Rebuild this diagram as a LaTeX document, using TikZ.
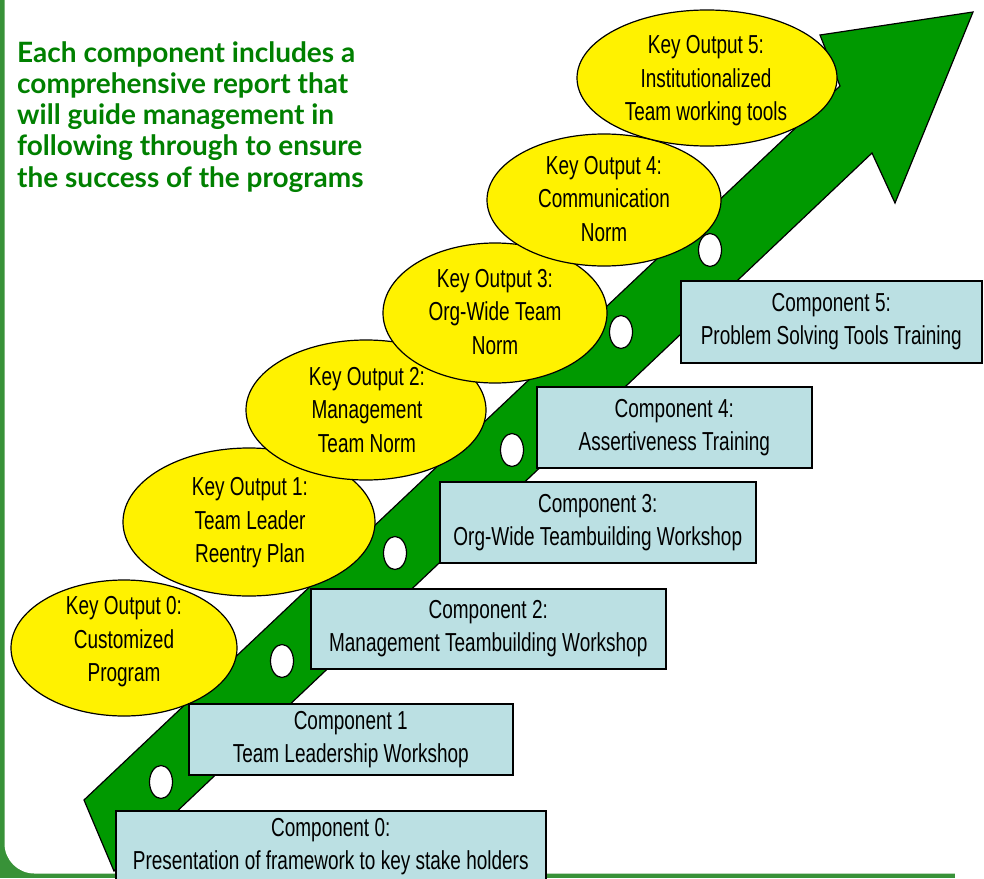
\documentclass[tikz,border=0pt]{standalone}
\usepackage{fontspec}
\setmainfont{Liberation Sans}
\newfontfamily\narrowfont[FakeStretch=0.73]{Liberation Sans}
\newfontfamily\headfont{Lato}
\definecolor{arrowgreen}{RGB}{0,153,0}
\definecolor{framegreen}{RGB}{56,146,56}
\definecolor{headgreen}{RGB}{0,128,0}
\definecolor{boxblue}{RGB}{187,224,227}
\begin{document}
\begin{tikzpicture}[x=1pt, y=-1pt,
    outline/.style={draw=black, line width=1.2pt},
    bubble/.style={outline, fill=yellow},
    hole/.style={outline, fill=white},
    bubbletext/.style={align=center, inner sep=0, font=\narrowfont\fontsize{26}{33.5}\selectfont},
    compbox/.style={outline, line width=1.5pt, fill=boxblue, anchor=north west, align=center, inner sep=0,
        font=\narrowfont\fontsize{26}{33}\selectfont}]
    \useasboundingbox (0,0) rectangle (984,878);
    % slide frame, only left and bottom edges show
    \fill[framegreen] (0,0) rectangle (955,878);
    \fill[white, rounded corners=30] (4.5,-60) rectangle (1100,873.5);
    \node[anchor=north west, align=left, inner sep=0, text=headgreen,
        font=\headfont\bfseries\fontsize{28}{31.3}\selectfont] (note) at (17,41)
        {Each component includes a\\comprehensive report that\\will guide management in\\following through to ensure\\the success of the programs};
    % the big arrow
    \draw[outline, fill=arrowgreen] (84,800) -- (114,871) -- (872,153) -- (895,203)
        -- (973,12) -- (820,35) -- (840,86) -- cycle;
    \foreach \x/\y in {161/782, 282/661, 395/553, 512/450, 621/332, 710/250}
        \draw[hole] (\x,\y) ellipse (11.5 and 16.5);
    % key outputs
    \draw[bubble] (124,648) ellipse (113 and 68);
    \node[bubbletext] (k0) at (124,642) {Key Output 0:\\Customized\\Program};
    \draw[bubble] (249,522) ellipse (126 and 74);
    \node[bubbletext] (k1) at (250,523) {Key Output 1:\\Team Leader\\Reentry Plan};
    \draw[bubble] (366,410) ellipse (120 and 70);
    \node[bubbletext] (k2) at (367,410) {Key Output 2:\\Management\\Team Norm};
    \draw[bubble] (495,313) ellipse (112 and 70);
    \node[bubbletext] (k3) at (495,312) {Key Output 3:\\Org-Wide Team\\Norm};
    \draw[bubble] (604,200) ellipse (117 and 66);
    \node[bubbletext] (k4) at (604,199) {Key Output 4:\\Communication\\Norm};
    \draw[bubble] (707,78) ellipse (130 and 68);
    \node[bubbletext] (k5) at (706,81) {Key Output 5:\\Institutionalized\\Team working tools};
    % components
    \node[compbox, minimum width=430, minimum height=72] (c0) at (115,810)
        {Component 0:\\Presentation of framework to key stake holders};
    \node[compbox, minimum width=324, minimum height=71] (c1) at (188,703)
        {Component 1\\Team Leadership Workshop};
    \node[compbox, minimum width=355, minimum height=80] (c2) at (310,588)
        {Component 2:\\Management Teambuilding Workshop};
    \node[compbox, minimum width=316, minimum height=81] (c3) at (439,481)
        {Component 3:\\Org-Wide Teambuilding Workshop};
    \node[compbox, minimum width=275, minimum height=81] (c4) at (536,386)
        {Component 4:\\Assertiveness Training};
    \node[compbox, minimum width=301, minimum height=82] (c5) at (680,280)
        {Component 5:\\Problem Solving Tools Training};
\end{tikzpicture}
\end{document}
